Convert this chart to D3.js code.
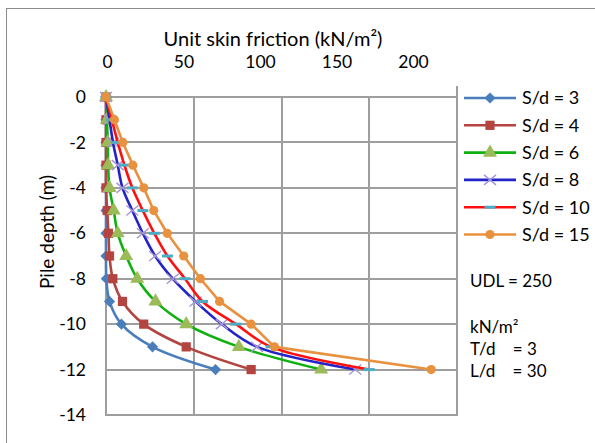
<!DOCTYPE html>
<html>
<head>
<meta charset="utf-8">
<script src="https://cdn.jsdelivr.net/npm/d3@7"></script>
<style>
  html, body { margin: 0; padding: 0; background: #fff; }
  svg { display: block; font-family: Lato, "Open Sans", sans-serif; }
</style>
</head>
<body>
<svg id="chart" width="595" height="443"></svg>
<script>
// ---- data ----
const depth = [0, -1, -2, -3, -4, -5, -6, -7, -8, -9, -10, -11, -12];
const sd3  = [0, 0, 0, 0, 0, 0, 0, 0, 0.2, 2, 8.8, 26.5, 62.4];
const sd4  = [0, 0, 0, 0, 0, 0.7, 1.4, 2, 3.9, 9.4, 21.5, 45.7, 82.7];
const sd6  = [0, 0.5, 1, 1.2, 2, 4.4, 6.7, 11.5, 17.8, 28.2, 45.7, 75.7, 122.6];
const sd8  = [0, 2, 4, 6.7, 9.4, 15, 21, 28, 38, 51, 66, 86, 142];
const sd10 = [0, 3.3, 6.7, 10.5, 15, 21, 27.5, 35, 45, 55, 74, 94, 150];
const sd15 = [0, 4.8, 9.6, 15.3, 21.5, 27.2, 34.9, 44.3, 53.8, 64.7, 82.7, 96, 185.3];
const seriesNames = ["S/d = 3", "S/d = 4", "S/d = 6", "S/d = 8", "S/d = 10", "S/d = 15"];
const xTicks = [0, 50, 100, 150, 200];
const yTicks = [0, -2, -4, -6, -8, -10, -12, -14];
const noteLines = ["UDL = 250", "", "kN/m\u00B2", "T/d    = 3", "L/d    = 30"];

const seriesValues = [sd3, sd4, sd6, sd8, sd10, sd15];
const lineColors   = ["#4A7EBB", "#B3443F", "#10B010", "#2323C8", "#FF1010", "#E8913F"];
const markColors   = ["#4A7EBB", "#B3443F", "#9BBB59", "#A497D6", "#4BACC6", "#E8913F"];
const markTypes    = ["diamond", "square", "triangle", "x", "dash", "circle"];
const smooth       = [true, true, true, true, true, false];

const svg = d3.select("#chart");

// outer frame
svg.append("rect").attr("x", 6.5).attr("y", 8.5).attr("width", 600).attr("height", 450)
  .style("fill", "none").attr("stroke", "#8c8c8c").attr("stroke-width", 1);

const x = d3.scaleLinear().domain([0, 200]).range([106, 457]);
const y = d3.scaleLinear().domain([-14, 0]).range([415, 97]);
// label positions for the top axis text as printed in the reference
const xLab = d3.scaleLinear().domain([0, 200]).range([107, 413]);

// gridlines (below the series)
const gridLayer = svg.append("g");
yTicks.forEach(t => gridLayer.append("line")
  .attr("x1", x(0) - 1).attr("x2", x(200) + 1).attr("y1", Math.round(y(t))).attr("y2", Math.round(y(t)))
  .style("stroke", "#9e9e9e").style("stroke-width", "2px"));
xTicks.forEach(t => gridLayer.append("line")
  .attr("x1", Math.round(x(t))).attr("x2", Math.round(x(t)))
  .attr("y1", t === 200 ? 86 : y(0) - 1).attr("y2", y(-14) + 1)
  .style("stroke", "#9e9e9e").style("stroke-width", "2px"));

// y axis labels
const yAxis = svg.append("g").attr("transform", `translate(${x(0)},0)`)
  .call(d3.axisLeft(y).tickValues(yTicks).tickSize(0).tickPadding(20).tickFormat(d3.format("d")));
yAxis.select(".domain").remove();
yAxis.selectAll("text").attr("font-size", 17.5).attr("fill", "#000").attr("font-family", "Lato, sans-serif")
  .text(d => d < 0 ? "-" + Math.abs(d) : d);

// top axis labels
const xAxis = svg.append("g").attr("transform", "translate(0,62)")
  .call(d3.axisTop(xLab).tickValues(xTicks).tickSize(0).tickPadding(0));
xAxis.select(".domain").remove();
xAxis.selectAll("text").attr("font-size", 17.5).attr("fill", "#000").attr("font-family", "Lato, sans-serif")
  .attr("dy", "0.35em");

// axis titles
svg.append("text").attr("x", 273).attr("y", 46).attr("text-anchor", "middle")
  .attr("font-size", 20).attr("fill", "#000").text("Unit skin friction (kN/m\u00B2)");
svg.append("text").attr("transform", "translate(54,232) rotate(-90)").attr("text-anchor", "middle")
  .attr("font-size", 19).attr("fill", "#000").text("Pile depth (m)");

// marker drawing
function drawMarker(g, type, color) {
  if (type === "diamond") {
    g.append("path").attr("d", d3.symbol(d3.symbolDiamond2, 80)()).style("fill", color);
  } else if (type === "square") {
    g.append("path").attr("d", d3.symbol(d3.symbolSquare, 85)()).style("fill", color);
  } else if (type === "triangle") {
    g.append("path").attr("d", d3.symbol(d3.symbolTriangle, 85)()).style("fill", color);
  } else if (type === "x") {
    g.append("path").attr("d", "M-6,-5L6,5M-6,5L6,-5").style("stroke", color).style("stroke-width", "1.4px").style("fill", "none");
  } else if (type === "dash") {
    g.append("rect").attr("x", -5.5).attr("y", -1.5).attr("width", 11).attr("height", 3).style("fill", color);
  } else if (type === "circle") {
    g.append("circle").attr("r", 4.6).style("fill", color);
  }
}

// series
const seriesLayer = svg.append("g");
seriesValues.forEach((vals, i) => {
  const pts = vals.map((v, k) => [x(v), y(depth[k])]);
  const line = d3.line().curve(smooth[i] ? d3.curveCatmullRom.alpha(0.5) : d3.curveLinear);
  const g = seriesLayer.append("g");
  g.append("path").attr("d", line(pts)).style("fill", "none")
    .style("stroke", lineColors[i]).style("stroke-width", "2.6px").style("stroke-linejoin", "round");
  pts.forEach(p => drawMarker(g.append("g").attr("transform", `translate(${p[0]},${p[1]})`), markTypes[i], markColors[i]));
});

// legend
const leg = svg.append("g");
seriesNames.forEach((name, i) => {
  const yy = 98 + i * 27.3;
  const row = leg.append("g").attr("transform", `translate(0,${yy})`);
  row.append("line").attr("x1", 464).attr("x2", 516).attr("y1", 0).attr("y2", 0)
    .style("stroke", lineColors[i]).style("stroke-width", "2.6px");
  drawMarker(row.append("g").attr("transform", "translate(490,0)"), markTypes[i], markColors[i]);
  row.append("text").attr("x", 522).attr("y", 0).attr("dy", "0.35em")
    .attr("font-size", 18).attr("fill", "#000").text(name);
});

// notes
const noteY = [281, 304, 327, 349, 371];
noteLines.forEach((t, i) => {
  if (!t) return;
  svg.append("text").attr("x", 470).attr("y", noteY[i]).attr("dy", "0.35em")
    .attr("font-size", 17).attr("fill", "#000").attr("xml:space", "preserve")
    .style("white-space", "pre").text(t);
});
</script>
</body>
</html>
